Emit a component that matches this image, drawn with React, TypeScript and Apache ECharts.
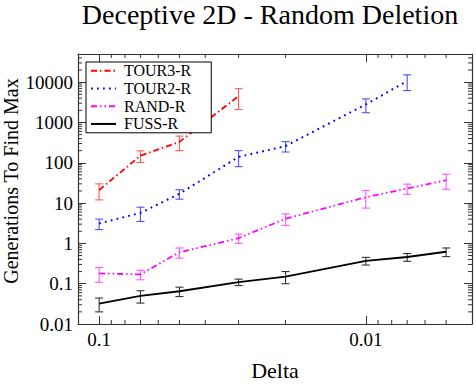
import React, { useEffect, useRef } from 'react';
import * as echarts from 'echarts';

const FONT = 'Liberation Serif';

const deltas = [0.1, 0.07, 0.05, 0.03, 0.02, 0.01, 0.007, 0.005];

const tour3 = [21, 150, 330, 4500];
const tour3Err = [9, 48, 130, 2400];
const tour2 = [3.1, 5.7, 17, 140, 260, 2800, 10700];
const tour2Err = [0.9, 2.2, 4.5, 60, 75, 1050, 4500];
const rand = [0.18, 0.17, 0.6, 1.35, 4.1, 14, 23, 37];
const randErr = [0.072, 0.045, 0.17, 0.35, 1.3, 6.5, 6.5, 15];
const fuss = [0.032, 0.05, 0.065, 0.11, 0.15, 0.37, 0.46, 0.62];
const fussErr = [0.012, 0.017, 0.017, 0.02, 0.05, 0.08, 0.1, 0.15];

const xTickLabels = ['0.1', '0.01'];
const yTickLabels = ['0.01', '0.1', '1', '10', '100', '1000', '10000'];

const xMinorTicks = [0.005, 0.006, 0.007, 0.008, 0.009, 0.02, 0.03, 0.04, 0.05, 0.06, 0.07, 0.08, 0.09];
const yMinorTicks = [
  0.02, 0.03, 0.04, 0.05, 0.06, 0.07, 0.08, 0.09,
  0.2, 0.3, 0.4, 0.5, 0.6, 0.7, 0.8, 0.9,
  2, 3, 4, 5, 6, 7, 8, 9,
  20, 30, 40, 50, 60, 70, 80, 90,
  200, 300, 400, 500, 600, 700, 800, 900,
  2000, 3000, 4000, 5000, 6000, 7000, 8000, 9000,
  20000, 30000, 40000,
];

const X_MIN = 0.004;
const X_MAX = 0.12;
const Y_MIN = 0.01;
const Y_MAX = 50000;

const fmt = (v: number) => String(Number(v.toPrecision(6)));

type SeriesDef = {
  name: string;
  values: number[];
  errs: number[];
  color: string;
  errColor: string;
  dash: number[] | 'solid';
  width: number;
};

const seriesDefs: SeriesDef[] = [
  { name: 'TOUR3-R', values: tour3, errs: tour3Err, color: '#ff0000', errColor: '#ff5a5a', dash: [6, 3, 1.5, 3], width: 1.8 },
  { name: 'TOUR2-R', values: tour2, errs: tour2Err, color: '#0000ff', errColor: '#5050ff', dash: [1.8, 4.2], width: 2 },
  { name: 'RAND-R', values: rand, errs: randErr, color: '#ff00ff', errColor: '#ff55ff', dash: [6, 3, 1.5, 3, 1.5, 3], width: 1.8 },
  { name: 'FUSS-R', values: fuss, errs: fussErr, color: '#000000', errColor: '#333333', dash: 'solid', width: 1.8 },
];

export default function App() {
  const ref = useRef<HTMLDivElement>(null);

  useEffect(() => {
    if (!ref.current) return;
    const chart = echarts.init(ref.current, undefined, { renderer: 'svg' });

    const axisLineStyle = { color: '#333', width: 1.2 };
    const tickStyle = { stroke: '#333', lineWidth: 1 };

    const lineSeries = seriesDefs.map((s) => ({
      name: s.name,
      type: 'line',
      color: s.color,
      symbol: 'none',
      showSymbol: false,
      data: s.values.map((v, i) => [deltas[i], v]),
      lineStyle: { color: s.color, width: s.width, type: s.dash },
      z: 3,
    }));

    const errSeries = seriesDefs.map((s) => ({
      name: s.name + ' err',
      type: 'custom',
      silent: true,
      z: 2,
      data: s.values.map((v, i) => [deltas[i], v, s.errs[i]]),
      renderItem: (params: any, api: any) => {
        const x = api.value(0);
        const y = api.value(1);
        const e = api.value(2);
        const top = api.coord([x, y + e]);
        const bot = api.coord([x, y - e]);
        const w = 4;
        const style = { stroke: s.errColor, lineWidth: 1.1 };
        return {
          type: 'group',
          children: [
            { type: 'line', shape: { x1: top[0], y1: top[1], x2: bot[0], y2: bot[1] }, style },
            { type: 'line', shape: { x1: top[0] - w, y1: top[1], x2: top[0] + w, y2: top[1] }, style },
            { type: 'line', shape: { x1: bot[0] - w, y1: bot[1], x2: bot[0] + w, y2: bot[1] }, style },
          ],
        };
      },
    }));

    const xMinorSeries = {
      type: 'custom',
      silent: true,
      z: 1,
      data: xMinorTicks.map((v) => [v, 1]),
      renderItem: (params: any, api: any) => {
        const cs = params.coordSys;
        const px = api.coord([api.value(0), 1])[0];
        const b = cs.y + cs.height;
        return {
          type: 'group',
          children: [
            { type: 'line', shape: { x1: px, y1: b, x2: px, y2: b - 4 }, style: tickStyle },
            { type: 'line', shape: { x1: px, y1: cs.y, x2: px, y2: cs.y + 4 }, style: tickStyle },
          ],
        };
      },
    };

    const yMinorSeries = {
      type: 'custom',
      silent: true,
      z: 1,
      data: yMinorTicks.map((v) => [0.1, v]),
      renderItem: (params: any, api: any) => {
        const cs = params.coordSys;
        const py = api.coord([0.1, api.value(1)])[1];
        const r = cs.x + cs.width;
        return {
          type: 'group',
          children: [
            { type: 'line', shape: { x1: cs.x, y1: py, x2: cs.x + 4, y2: py }, style: tickStyle },
            { type: 'line', shape: { x1: r, y1: py, x2: r - 4, y2: py }, style: tickStyle },
          ],
        };
      },
    };

    const xAxisBase = {
      type: 'log',
      logBase: 10,
      min: X_MIN,
      max: X_MAX,
      inverse: true,
      axisLine: { show: true, lineStyle: axisLineStyle },
      axisTick: { show: true, inside: true, length: 8, lineStyle: { color: '#333', width: 1 } },
      splitLine: { show: false },
      minorTick: { show: false },
    };
    const yAxisBase = {
      type: 'log',
      logBase: 10,
      min: Y_MIN,
      max: Y_MAX,
      axisLine: { show: true, lineStyle: axisLineStyle },
      axisTick: { show: true, inside: true, length: 8, lineStyle: { color: '#333', width: 1 } },
      splitLine: { show: false },
      minorTick: { show: false },
    };

    chart.setOption({
      animation: false,
      backgroundColor: '#ffffff',
      textStyle: { fontFamily: FONT, color: '#000' },
      title: {
        text: 'Deceptive 2D - Random Deletion',
        left: 270,
        top: 0,
        padding: 0,
        textAlign: 'center',
        textStyle: { fontFamily: FONT, fontSize: 28, fontWeight: 'normal', color: '#000' },
      },
      grid: { left: 78, right: 4, top: 54, bottom: 41, containLabel: false },
      legend: {
        orient: 'vertical',
        left: 86,
        top: 62,
        data: seriesDefs.map((s) => s.name),
        borderColor: '#000',
        borderWidth: 1,
        borderRadius: 0,
        backgroundColor: '#fff',
        padding: [0, 20, 0, 4],
        itemWidth: 25,
        itemHeight: 12,
        itemGap: 0,
        selectedMode: false,
        itemStyle: { opacity: 0 },
        textStyle: { fontFamily: FONT, fontSize: 16, color: '#000', lineHeight: 17.7, padding: [0, 0, 0, 3] },
      },
      xAxis: [
        {
          ...xAxisBase,
          position: 'bottom',
          name: 'Delta',
          nameLocation: 'middle',
          nameGap: 35,
          nameTextStyle: { fontFamily: FONT, fontSize: 22, color: '#000' },
          axisLabel: {
            show: true,
            margin: 6,
            fontFamily: FONT,
            fontSize: 19,
            color: '#000',
            formatter: (v: number) => (xTickLabels.includes(fmt(v)) ? fmt(v) : ''),
          },
        },
        {
          ...xAxisBase,
          position: 'top',
          axisLabel: { show: false },
        },
      ],
      yAxis: [
        {
          ...yAxisBase,
          position: 'left',
          axisLabel: {
            show: true,
            margin: 5,
            fontFamily: FONT,
            fontSize: 19,
            color: '#000',
            formatter: (v: number) => (yTickLabels.includes(fmt(v)) ? fmt(v) : ''),
          },
        },
        {
          ...yAxisBase,
          position: 'right',
          axisLabel: { show: false },
        },
      ],
      graphic: [
        {
          type: 'text',
          x: 11,
          y: 181,
          rotation: Math.PI / 2,
          style: {
            text: 'Generations To Find Max',
            font: `20px ${FONT}`,
            fill: '#000',
            textAlign: 'center',
            textVerticalAlign: 'middle',
          },
        },
      ],
      series: [xMinorSeries, yMinorSeries, ...errSeries, ...lineSeries],
    });

    return () => chart.dispose();
  }, []);

  return <div ref={ref} style={{ position: 'fixed', left: 0, top: 0, width: 476, height: 386 }} />;
}
